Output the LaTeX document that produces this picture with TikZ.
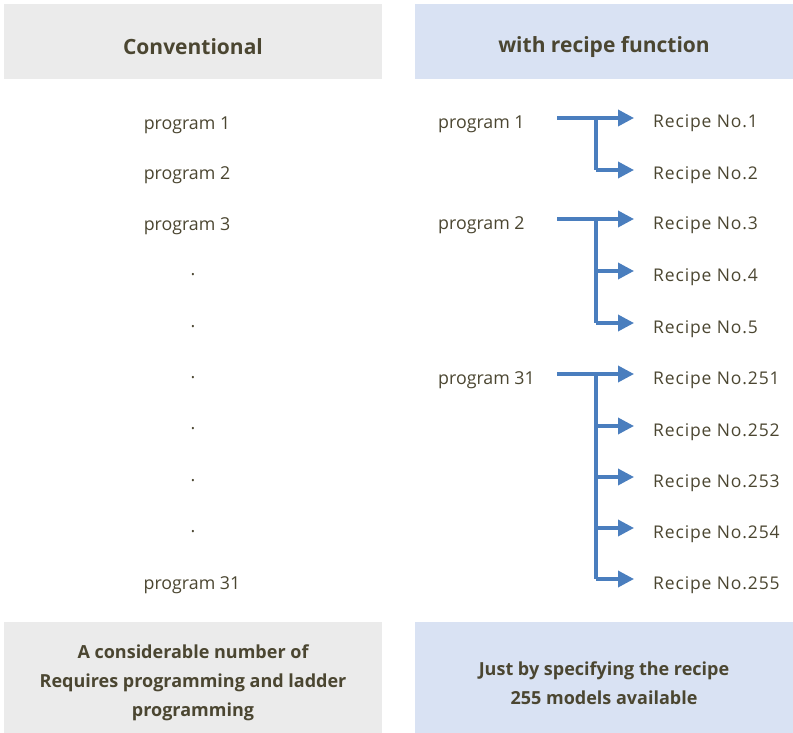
\documentclass[tikz,border=0pt]{standalone}
\usepackage{fontspec}
\setmainfont{Open Sans}
\usetikzlibrary{arrows.meta}
\definecolor{txt}{HTML}{4B4631}
\definecolor{hgray}{HTML}{EBEBEB}
\definecolor{hblue}{HTML}{D9E2F3}
\definecolor{arr}{HTML}{4A7EBE}
\begin{document}
\begin{tikzpicture}[x=1pt,y=-1pt,
  lbl/.style={text=txt,font=\fontsize{17.8}{20}\selectfont,inner sep=0pt},
  rcp/.style={text=txt,font=\fontsize{17.5}{20}\selectfont\addfontfeatures{LetterSpace=5},inner sep=0pt,anchor=west},
  hdr/.style={text=txt,font=\fontsize{21}{24}\selectfont\bfseries,inner sep=0pt},
  foot/.style={text=txt,font=\fontsize{18}{29}\selectfont\bfseries,align=center,inner sep=0pt},
  conn/.style={draw=arr,line width=3.5pt,-{Triangle[length=16pt,width=16pt]}},
  bar/.style={draw=arr,line width=3.5pt}]
\useasboundingbox (0,0) rectangle (793,733);
\fill[hgray] (4,4) rectangle (382,79);
\fill[hblue] (415,4) rectangle (793,79);
\fill[hgray] (4,622) rectangle (382,733);
\fill[hblue] (415,622) rectangle (793,733);
\node[hdr] (h1) at (193,47) {Conventional};
\node[hdr] (h2) at (604,47) {with recipe function};
% left column
\node[lbl] (c1) at (187,125) {program 1};
\node[lbl] (c2) at (187,175) {program 2};
\node[lbl] (c3) at (187,226) {program 3};
\foreach \yy/\nm in {275/d1,327/d2,378/d3,429/d4,481/d5,532/d6}
  \node[lbl] (\nm) at (193,\yy) {.};
\node[lbl] (c31) at (192,585) {program 31};
% right column programs
\node[lbl,anchor=west] (p1) at (438,124) {program 1};
\node[lbl,anchor=west] (p2) at (438,225) {program 2};
\node[lbl,anchor=west] (p31) at (438,380) {program 31};
% recipes
\foreach \yy/\nm/\t in {123/r1/1,175/r2/2,225/r3/3,277/r4/4,329/r5/5,380/r251/251,432/r252/252,483/r253/253,534/r254/254,585/r255/255}
  \node[rcp] (\nm) at (653,\yy) {Recipe No.\t};
% arrows
\coordinate (s1) at (557,118);
\coordinate (s2) at (557,219);
\coordinate (s3) at (557,374);
\draw[conn] (s1) -- (634,118);
\draw[bar] (596,118) -- (596,170);
\draw[conn] (596,170) -- (634,170);
\draw[conn] (s2) -- (634,219);
\draw[bar] (596,219) -- (596,323);
\draw[conn] (596,271) -- (634,271);
\draw[conn] (596,323) -- (634,323);
\draw[conn] (s3) -- (634,374);
\draw[bar] (596,374) -- (596,579);
\draw[conn] (596,426) -- (634,426);
\draw[conn] (596,477) -- (634,477);
\draw[conn] (596,528) -- (634,528);
\draw[conn] (596,579) -- (634,579);
% footers
\node[foot] (f1) at (193,683) {A considerable number of\\Requires programming and ladder\\programming};
\node[foot] (f2) at (604,683) {Just by specifying the recipe\\255 models available};
\end{tikzpicture}
\end{document}
